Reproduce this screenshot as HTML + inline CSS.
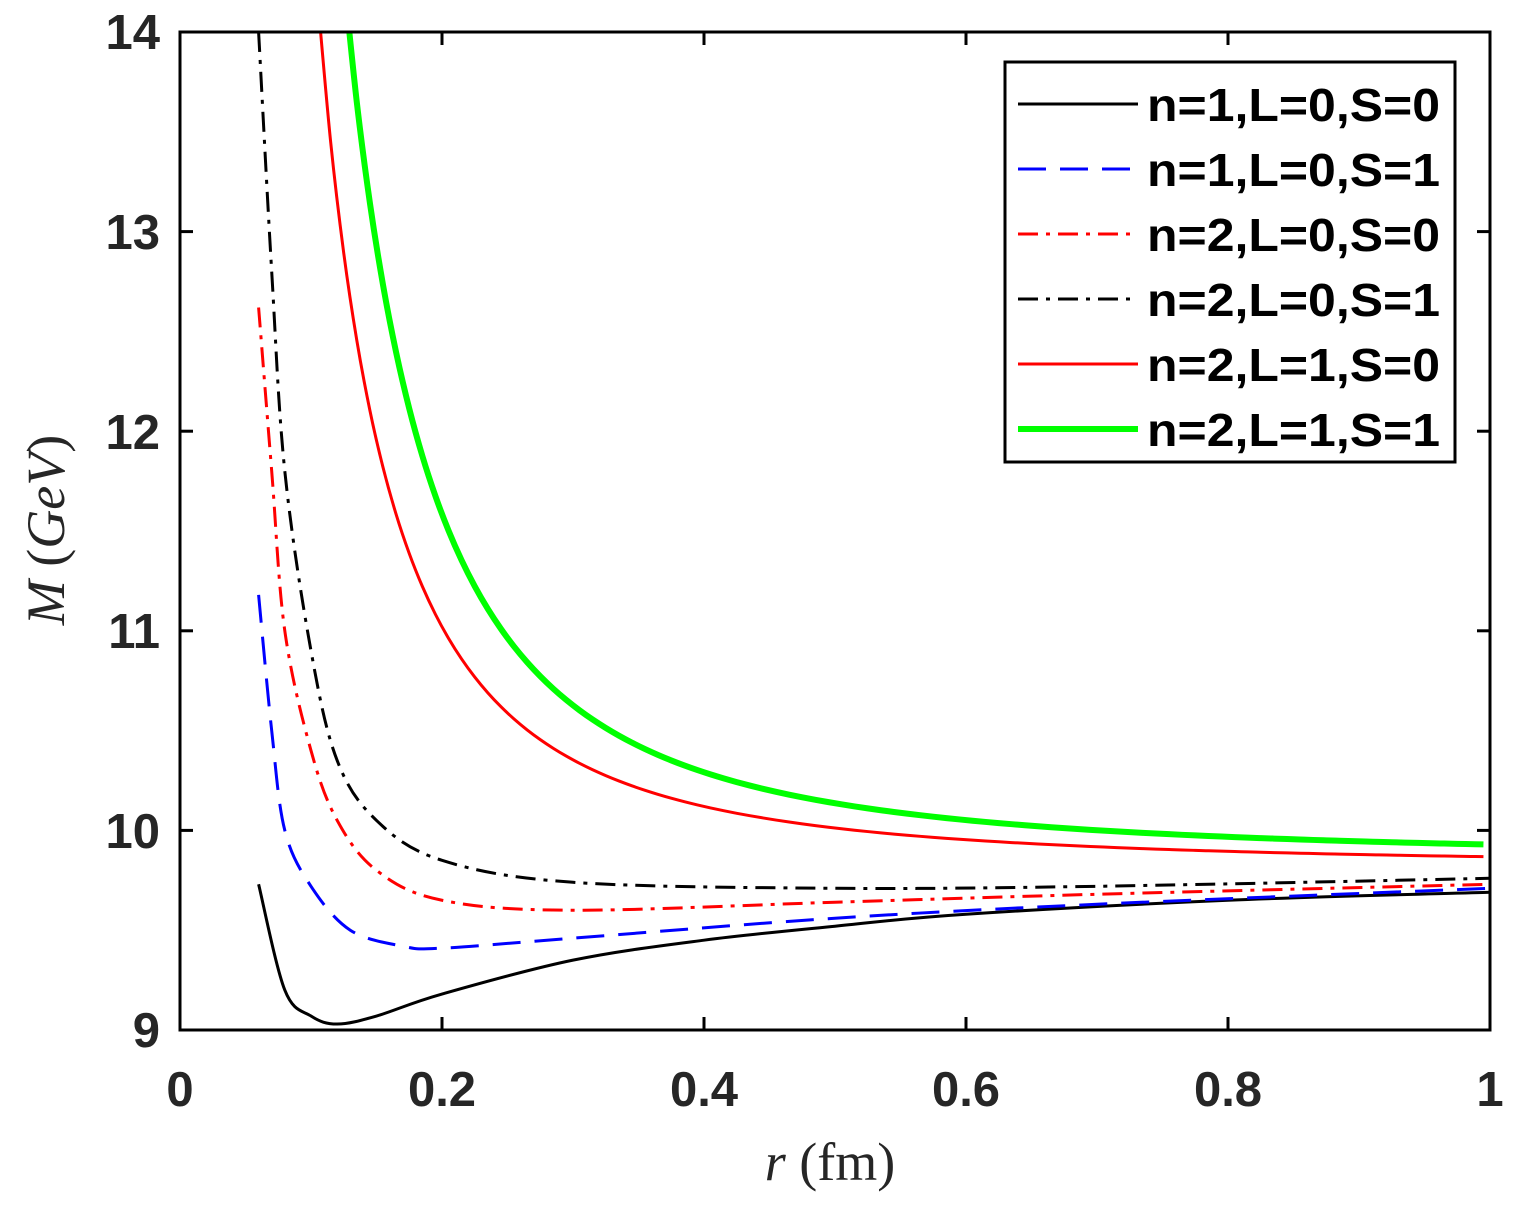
<!DOCTYPE html>
<html><head><meta charset="utf-8"><style>
body{margin:0;background:#fff}
svg text{font-family:"Liberation Sans",Arial,sans-serif;font-weight:bold}
</style></head><body>
<svg id="s" width="1515" height="1207" xmlns="http://www.w3.org/2000/svg">
<defs><clipPath id="cp"><rect x="180" y="32" width="1310" height="998"/></clipPath></defs>
<rect width="1515" height="1207" fill="#fff"/>
<g id="curves" clip-path="url(#cp)"></g>
<rect x="180" y="32" width="1310" height="998" fill="none" stroke="#000" stroke-width="3"/>
<g id="ticks" stroke="#000" stroke-width="3"></g>
<g font-size="49" fill="#262626">
<text x="160" y="1047" text-anchor="end">9</text>
<text x="160" y="848" text-anchor="end">10</text>
<text x="160" y="648" text-anchor="end">11</text>
<text x="160" y="449" text-anchor="end">12</text>
<text x="160" y="249" text-anchor="end">13</text>
<text x="160" y="49" text-anchor="end">14</text>
<text x="180" y="1106" text-anchor="middle">0</text>
<text x="442" y="1106" text-anchor="middle">0.2</text>
<text x="704" y="1106" text-anchor="middle">0.4</text>
<text x="966" y="1106" text-anchor="middle">0.6</text>
<text x="1228" y="1106" text-anchor="middle">0.8</text>
<text x="1490" y="1106" text-anchor="middle">1</text>
</g>
<text x="830" y="1180" text-anchor="middle" font-size="54" style="font-family:'Liberation Serif',serif;font-weight:normal" fill="#262626"><tspan font-style="italic">r</tspan> (fm)</text>
<text transform="translate(64,530) rotate(-90)" text-anchor="middle" font-size="54" style="font-family:'Liberation Serif',serif;font-weight:normal" fill="#262626"><tspan font-style="italic">M</tspan> (<tspan font-style="italic">GeV</tspan>)</text>
<rect x="1005" y="62" width="450" height="400" fill="#fff" stroke="#000" stroke-width="3"/>
<g id="leg"></g>
</svg>
<script>
const X=r=>180+1310*r, Y=m=>1030-(m-9)*199.6;
function f(a,c,r0){let p=[];for(let r=r0;r<=1.0001;r+=0.01)p.push([r,a+c/(r*r)]);return p;}
const series=[
 {c:"#000",w:3,d:"",p:[[0.06,9.73],[0.08,9.2],[0.1,9.07],[0.12,9.03],[0.15,9.07],[0.2,9.18],[0.3,9.35],[0.4,9.45],[0.5,9.52],[0.6,9.58],[0.8,9.65],[1,9.69]],l:"n=1,L=0,S=0"},
 {c:"#00f",w:3,d:"28 14",p:[[0.06,11.18],[0.07,10.5],[0.08,10.0],[0.1,9.72],[0.13,9.5],[0.17,9.42],[0.2,9.41],[0.3,9.46],[0.5,9.56],[0.7,9.63],[1,9.71]],l:"n=1,L=0,S=1"},
 {c:"#f00",w:3,d:"20 8 4 8",p:[[0.06,12.62],[0.07,11.8],[0.08,11.0],[0.1,10.4],[0.12,10.05],[0.15,9.8],[0.2,9.65],[0.3,9.6],[0.5,9.64],[0.7,9.68],[1,9.73]],l:"n=2,L=0,S=0"},
 {c:"#000",w:3,d:"20 8 4 8",p:[[0.06,14],[0.07,12.8],[0.08,11.8],[0.1,10.9],[0.12,10.35],[0.15,10.05],[0.2,9.85],[0.3,9.74],[0.5,9.71],[0.7,9.72],[1,9.76]],l:"n=2,L=0,S=1"},
 {c:"#f00",w:3,d:"",p:f(9.82,0.048,0.105),l:"n=2,L=1,S=0"},
 {c:"#0f0",w:6,d:"",p:f(9.86,0.069,0.125),l:"n=2,L=1,S=1"}
];
function path(p){let P=p.map(q=>[X(q[0]),Y(q[1])]);let s="M"+P[0];
for(let i=0;i<P.length-1;i++){const a=P[i-1]||P[i],b=P[i],c=P[i+1],d=P[i+2]||c;
s+="C"+(b[0]+(c[0]-a[0])/6)+","+(b[1]+(c[1]-a[1])/6)+" "+(c[0]-(d[0]-b[0])/6)+","+(c[1]-(d[1]-b[1])/6)+" "+c[0]+","+c[1];}return s;}
let g="",lg="";
series.forEach((s,i)=>{g+=`<path d="${path(s.p)}" fill="none" stroke="${s.c}" stroke-width="${s.w}" stroke-dasharray="${s.d}"/>`;
const y=104+i*65;lg+=`<line x1="1018" y1="${y}" x2="1138" y2="${y}" stroke="${s.c}" stroke-width="${s.w}" stroke-dasharray="${s.d}"/><text x="1147" y="${y+17}" font-size="46" textLength="293" lengthAdjust="spacingAndGlyphs" fill="#000">${s.l}</text>`;});
document.getElementById("curves").innerHTML=g;
document.getElementById("leg").innerHTML=lg;
let t="";
[9,10,11,12,13,14].forEach(m=>{t+=`<line x1="180" y1="${Y(m)}" x2="193" y2="${Y(m)}"/><line x1="1477" y1="${Y(m)}" x2="1490" y2="${Y(m)}"/>`;});
[0,0.2,0.4,0.6,0.8,1].forEach(r=>{t+=`<line x1="${X(r)}" y1="1030" x2="${X(r)}" y2="1017"/><line x1="${X(r)}" y1="32" x2="${X(r)}" y2="45"/>`;});
document.getElementById("ticks").innerHTML=t;
</script>
</body></html>
